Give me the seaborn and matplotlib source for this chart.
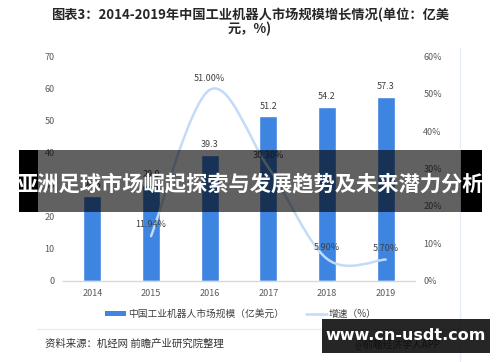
import numpy as np
import pandas as pd
import matplotlib
matplotlib.use('Agg')
import matplotlib.pyplot as plt
import seaborn as sns
from matplotlib.path import Path
from matplotlib.patches import PathPatch, Rectangle, Patch
from matplotlib.lines import Line2D

# data
years = ['2014', '2015', '2016', '2017', '2018', '2019']
market = [26.5, 29.9, 39.3, 51.2, 54.2, 57.3]          # 亿美元
growth_years = ['2015', '2016', '2017', '2018', '2019']
growth = [11.94, 51.00, 30.30, 5.90, 5.70]             # %

bar_color = '#3d85e0'
line_color = '#c3dbf7'
tick_color = '#595959'

sns.set_theme(style='white')
plt.rcParams['font.family'] = ['Noto Sans CJK SC', 'DejaVu Sans']

fig = plt.figure(figsize=(5, 3.62), dpi=100)
ax = fig.add_axes([0.126, 0.224, 0.704, 0.621])

df = pd.DataFrame({'year': years, 'market': market})
sns.barplot(data=df, x='year', y='market', color=bar_color, saturation=1,
            width=0.31, ax=ax)
ax.bar_label(ax.containers[0], labels=[f'{v:.1f}' for v in market],
             padding=4, fontsize=6.5, color='#404040')
ax.set_ylim(0, 70)
ax.set_yticks(range(0, 71, 10))
ax.set_xlim(-0.5, 5.5)
ax.set_xlabel('')
ax.set_ylabel('')
ax.tick_params(length=0, labelsize=6.5, labelcolor=tick_color, pad=6)
for s in ['top', 'right', 'left']:
    ax.spines[s].set_visible(False)
ax.spines['bottom'].set_color('#d9d9d9')
ax.spines['bottom'].set_linewidth(1)

# growth line on right axis, smoothed like the spreadsheet curve
ax2 = ax.twinx()
ax2.set_ylim(0, 60)
ax2.set_yticks(range(0, 61, 10))
ax2.set_yticklabels([f'{v}%' for v in range(0, 61, 10)])
ax2.tick_params(length=0, labelsize=6.5, labelcolor=tick_color, pad=6)
for s in ax2.spines.values():
    s.set_visible(False)

xs = [years.index(y) for y in growth_years]
pts = np.array(list(zip(xs, growth)), dtype=float)
ext = np.vstack([pts[0], pts, pts[-1]])
verts = [tuple(pts[0])]
codes = [Path.MOVETO]
for i in range(1, len(ext) - 2):
    c1 = ext[i] + (ext[i + 1] - ext[i - 1]) / 6
    c2 = ext[i + 1] - (ext[i + 2] - ext[i]) / 6
    verts += [tuple(c1), tuple(c2), tuple(ext[i + 1])]
    codes += [Path.CURVE4] * 3
ax2.add_patch(PathPatch(Path(verts, codes), facecolor='none',
                        edgecolor=line_color, lw=1.8, capstyle='round'))
for x, g in zip(xs, growth):
    ax2.annotate(f'{g:.2f}%', (x, g), xytext=(0, 5), textcoords='offset points',
                 ha='center', va='bottom', fontsize=6.5, color='#404040')

# title
fig.text(0.5, 1 - 15 / 362, '图表3：2014-2019年中国工业机器人市场规模增长情况(单位：亿美',
         ha='center', va='center', fontsize=9.5, fontweight='bold', color='#262626')
fig.text(0.5, 1 - 29 / 362, '元，%)', ha='center', va='center',
         fontsize=9.5, fontweight='bold', color='#262626')

# legend
handles = [Patch(facecolor=bar_color, edgecolor='none'),
           Line2D([0], [0], color=line_color, lw=1.8)]
fig.legend(handles, ['中国工业机器人市场规模（亿美元）', '增速（%）'],
           loc='center', bbox_to_anchor=(241 / 500, 1 - 314 / 362), ncol=2,
           frameon=False, fontsize=7, handlelength=2.2, handleheight=0.5,
           handletextpad=0.2, columnspacing=2.2, labelcolor='#404040')

# frame lines of the original picture
fig.add_artist(Line2D([460 / 500, 460 / 500], [0, 1 - 48 / 362],
                      color='#e6edf5', lw=1, transform=fig.transFigure))
fig.add_artist(Line2D([37 / 500, 460 / 500], [1 - 329 / 362, 1 - 329 / 362],
                      color='#e6edf5', lw=1, transform=fig.transFigure))

fig.text(45 / 500, 1 - 344 / 362, '资料来源：机经网 前瞻产业研究院整理',
         ha='left', va='center', fontsize=7.5, color='#333333')
fig.text(440 / 500, 1 - 345 / 362, '@前瞻经济学人APP',
         ha='right', va='center', fontsize=7, color='#666666')

# banner overlay
by0, by1 = 1 - 212 / 362, 1 - 150 / 362
fig.add_artist(Rectangle((19 / 500, by0), 19 / 500, by1 - by0, facecolor='black',
                         edgecolor='none', transform=fig.transFigure, zorder=10))
fig.add_artist(Rectangle((461 / 500, by0), 21 / 500, by1 - by0, facecolor='black',
                         edgecolor='none', transform=fig.transFigure, zorder=10))
fig.add_artist(Rectangle((38 / 500, by0), 423 / 500, by1 - by0, facecolor='black',
                         alpha=0.62, edgecolor='none', transform=fig.transFigure, zorder=10))
fig.text(0.5, 1 - 184 / 362, '亚洲足球市场崛起探索与发展趋势及未来潜力分析',
         ha='center', va='center', fontsize=15.3, fontweight='bold',
         color='white', zorder=11)

# site box bottom right
fig.add_artist(Rectangle((322 / 500, 1 - 353 / 362), 168 / 500, 34 / 362,
                         facecolor='black', alpha=0.85, edgecolor='none',
                         transform=fig.transFigure, zorder=10))
fig.text(406 / 500, 1 - 335 / 362, 'www.cn-usdt.com', ha='center', va='center',
         fontsize=11.5, fontweight='bold', color='white', family='DejaVu Sans',
         zorder=11)

fig.savefig('out.png', dpi=100)
